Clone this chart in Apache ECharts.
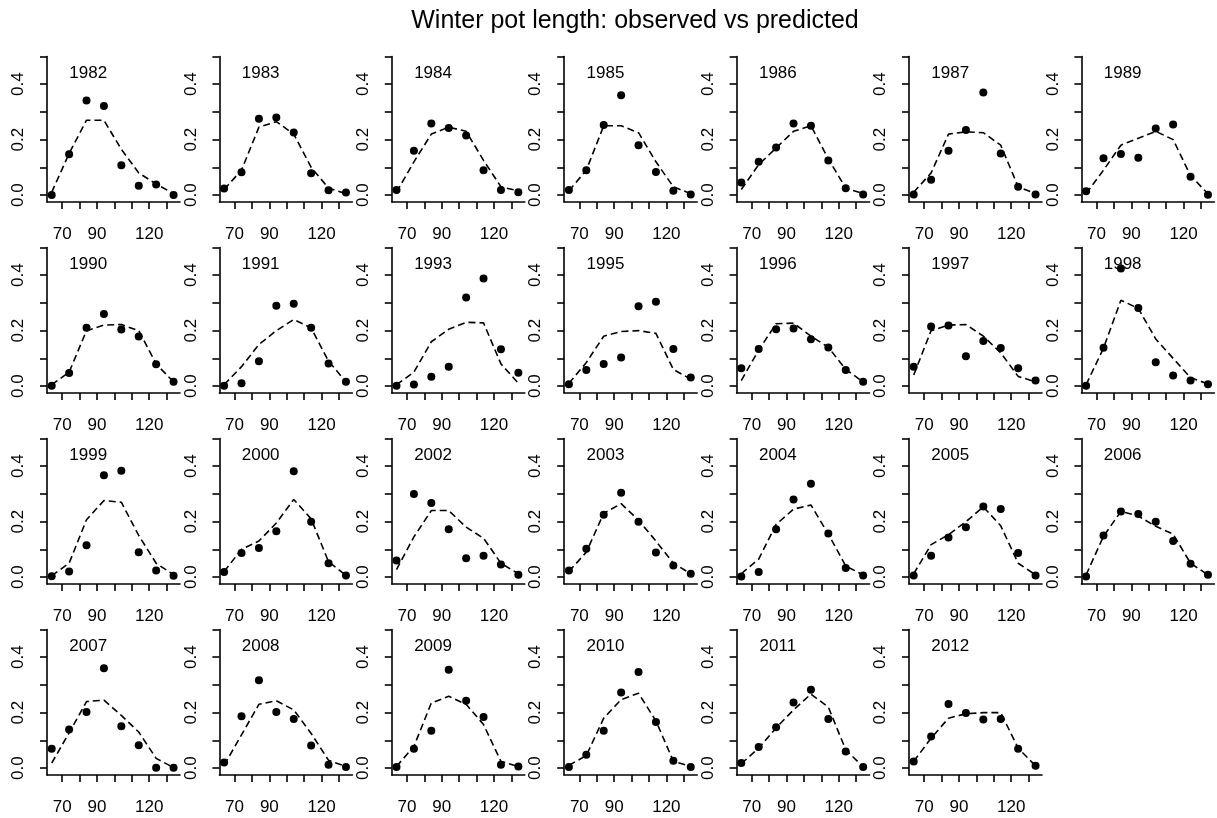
<!DOCTYPE html>
<html>
<head>
<meta charset="utf-8">
<title>Winter pot length</title>
<script src="https://cdn.jsdelivr.net/npm/echarts@6/dist/echarts.min.js"></script>
<style>
  html, body { margin: 0; padding: 0; background: #fff; }
  #chart { width: 1217px; height: 818px; }
</style>
</head>
<body>
<div id="chart"></div>
<script>
// Length classes (x) and axis ticks
const lengths = [64, 74, 84, 94, 104, 114, 124, 134];
const xTicks = [70, 80, 90, 100, 110, 120, 130];
const xTickLabels = [70, 90, 120];
const yTicks = [0, 0.1, 0.2, 0.3, 0.4, 0.5];
const yTickLabels = [0, 0.2, 0.4];

// Observed proportions (points) and model predictions (dashed) per year
const obs1982 = [0.000, 0.147, 0.341, 0.321, 0.108, 0.034, 0.038, 0.000];
const pred1982 = [0.010, 0.150, 0.270, 0.270, 0.165, 0.080, 0.040, 0.005];
const obs1983 = [0.024, 0.082, 0.275, 0.280, 0.226, 0.079, 0.017, 0.009];
const pred1983 = [0.020, 0.090, 0.245, 0.265, 0.220, 0.100, 0.025, 0.005];
const obs1984 = [0.018, 0.160, 0.258, 0.242, 0.215, 0.090, 0.018, 0.010];
const pred1984 = [0.010, 0.120, 0.220, 0.245, 0.230, 0.125, 0.030, 0.015];
const obs1985 = [0.018, 0.090, 0.253, 0.360, 0.180, 0.083, 0.016, 0.002];
const pred1985 = [0.015, 0.090, 0.250, 0.250, 0.225, 0.120, 0.030, 0.005];
const obs1986 = [0.045, 0.120, 0.172, 0.258, 0.250, 0.125, 0.025, 0.002];
const pred1986 = [0.020, 0.110, 0.170, 0.230, 0.250, 0.130, 0.025, 0.005];
const obs1987 = [0.002, 0.055, 0.160, 0.235, 0.370, 0.150, 0.030, 0.002];
const pred1987 = [0.010, 0.080, 0.220, 0.228, 0.225, 0.180, 0.030, 0.005];
const obs1989 = [0.014, 0.133, 0.148, 0.135, 0.240, 0.255, 0.066, 0.001];
const pred1989 = [0.005, 0.090, 0.180, 0.205, 0.230, 0.200, 0.070, 0.005];
const obs1990 = [0.001, 0.047, 0.210, 0.260, 0.204, 0.179, 0.079, 0.016];
const pred1990 = [0.005, 0.050, 0.200, 0.220, 0.222, 0.200, 0.080, 0.015];
const obs1991 = [0.001, 0.010, 0.090, 0.290, 0.297, 0.210, 0.081, 0.016];
const pred1991 = [0.005, 0.070, 0.150, 0.200, 0.240, 0.210, 0.090, 0.015];
const obs1993 = [0.001, 0.006, 0.034, 0.070, 0.320, 0.388, 0.133, 0.048];
const pred1993 = [0.005, 0.050, 0.160, 0.205, 0.230, 0.228, 0.080, 0.010];
const obs1995 = [0.007, 0.058, 0.080, 0.103, 0.288, 0.304, 0.134, 0.031];
const pred1995 = [0.010, 0.085, 0.180, 0.197, 0.200, 0.190, 0.060, 0.025];
const obs1996 = [0.064, 0.134, 0.205, 0.208, 0.169, 0.139, 0.058, 0.016];
const pred1996 = [0.020, 0.130, 0.225, 0.227, 0.180, 0.140, 0.060, 0.015];
const obs1997 = [0.070, 0.215, 0.219, 0.108, 0.163, 0.137, 0.064, 0.020];
const pred1997 = [0.040, 0.200, 0.220, 0.222, 0.180, 0.120, 0.035, 0.015];
const obs1998 = [0.001, 0.138, 0.424, 0.282, 0.086, 0.038, 0.020, 0.007];
const pred1998 = [0.005, 0.137, 0.310, 0.280, 0.170, 0.100, 0.030, 0.008];
const obs1999 = [0.003, 0.020, 0.115, 0.367, 0.384, 0.090, 0.024, 0.005];
const pred1999 = [0.005, 0.050, 0.207, 0.276, 0.270, 0.150, 0.050, 0.008];
const obs2000 = [0.018, 0.087, 0.105, 0.165, 0.382, 0.200, 0.050, 0.006];
const pred2000 = [0.020, 0.100, 0.130, 0.195, 0.280, 0.210, 0.055, 0.006];
const obs2002 = [0.060, 0.300, 0.267, 0.173, 0.068, 0.077, 0.045, 0.008];
const pred2002 = [0.027, 0.145, 0.240, 0.240, 0.180, 0.140, 0.050, 0.012];
const obs2003 = [0.024, 0.102, 0.225, 0.304, 0.200, 0.089, 0.042, 0.012];
const pred2003 = [0.020, 0.090, 0.230, 0.265, 0.205, 0.130, 0.050, 0.012];
const obs2004 = [0.002, 0.018, 0.173, 0.280, 0.337, 0.157, 0.033, 0.006];
const pred2004 = [0.012, 0.065, 0.190, 0.245, 0.260, 0.155, 0.040, 0.008];
const obs2005 = [0.006, 0.077, 0.143, 0.180, 0.255, 0.246, 0.087, 0.006];
const pred2005 = [0.012, 0.117, 0.153, 0.200, 0.253, 0.185, 0.050, 0.008];
const obs2006 = [0.002, 0.150, 0.237, 0.228, 0.200, 0.130, 0.048, 0.008];
const pred2006 = [0.008, 0.147, 0.237, 0.220, 0.183, 0.155, 0.050, 0.008];
const obs2007 = [0.070, 0.139, 0.202, 0.360, 0.151, 0.082, 0.001, 0.001];
const pred2007 = [0.018, 0.127, 0.240, 0.245, 0.190, 0.130, 0.035, 0.002];
const obs2008 = [0.020, 0.187, 0.317, 0.202, 0.177, 0.081, 0.012, 0.004];
const pred2008 = [0.010, 0.120, 0.230, 0.243, 0.210, 0.125, 0.028, 0.006];
const obs2009 = [0.004, 0.070, 0.135, 0.355, 0.243, 0.184, 0.012, 0.006];
const pred2009 = [0.006, 0.078, 0.235, 0.259, 0.230, 0.157, 0.024, 0.006];
const obs2010 = [0.004, 0.048, 0.135, 0.273, 0.347, 0.166, 0.026, 0.004];
const pred2010 = [0.010, 0.045, 0.180, 0.247, 0.270, 0.170, 0.025, 0.006];
const obs2011 = [0.018, 0.076, 0.147, 0.237, 0.283, 0.177, 0.060, 0.004];
const pred2011 = [0.016, 0.072, 0.145, 0.210, 0.267, 0.220, 0.066, 0.004];
const obs2012 = [0.024, 0.114, 0.231, 0.199, 0.175, 0.177, 0.070, 0.008];
const pred2012 = [0.024, 0.108, 0.180, 0.196, 0.200, 0.200, 0.072, 0.008];

const panels = [
  ['1982', obs1982, pred1982], ['1983', obs1983, pred1983], ['1984', obs1984, pred1984],
  ['1985', obs1985, pred1985], ['1986', obs1986, pred1986], ['1987', obs1987, pred1987],
  ['1989', obs1989, pred1989], ['1990', obs1990, pred1990], ['1991', obs1991, pred1991],
  ['1993', obs1993, pred1993], ['1995', obs1995, pred1995], ['1996', obs1996, pred1996],
  ['1997', obs1997, pred1997], ['1998', obs1998, pred1998], ['1999', obs1999, pred1999],
  ['2000', obs2000, pred2000], ['2002', obs2002, pred2002], ['2003', obs2003, pred2003],
  ['2004', obs2004, pred2004], ['2005', obs2005, pred2005], ['2006', obs2006, pred2006],
  ['2007', obs2007, pred2007], ['2008', obs2008, pred2008], ['2009', obs2009, pred2009],
  ['2010', obs2010, pred2010], ['2011', obs2011, pred2011], ['2012', obs2012, pred2012]
];

// Panel layout: 7 columns x 4 rows
const NCOL = 7;
const colLeft = 47, colStep = 172.4, panelW = 133;
const rowTop = 56.5, rowStep = 191, panelH = 145.5;
const X_MIN = 61.3, X_MAX = 137.7;
const Y_MIN = -0.025, Y_MAX = 0.5;
const FONT = '"Liberation Sans", Arial, Helvetica, sans-serif';
const INK = '#000';
const TEXT = '#000';
const LW = 1.6;

const grids = [], xAxes = [], yAxes = [], series = [];
panels.forEach(([year, obs, pred], i) => {
  const c = i % NCOL, r = Math.floor(i / NCOL);
  grids.push({
    left: colLeft + c * colStep, top: rowTop + r * rowStep,
    width: panelW, height: panelH, containLabel: false
  });
  xAxes.push({
    type: 'value', gridIndex: i, min: X_MIN, max: X_MAX,
    axisLine: { show: true, onZero: false, lineStyle: { color: INK, width: LW } },
    axisTick: { show: true, customValues: xTicks, length: 7, inside: false,
                lineStyle: { color: INK, width: LW } },
    axisLabel: { show: true, customValues: xTickLabels, margin: 24,
                 fontSize: 17, fontFamily: FONT, color: TEXT },
    splitLine: { show: false }
  });
  yAxes.push({
    type: 'value', gridIndex: i, min: Y_MIN, max: Y_MAX,
    axisLine: { show: true, onZero: false, lineStyle: { color: INK, width: LW } },
    axisTick: { show: true, customValues: yTicks, length: 7, inside: false,
                lineStyle: { color: INK, width: LW } },
    axisLabel: { show: true, customValues: yTickLabels, rotate: 90, margin: 20,
                 fontSize: 17, fontFamily: FONT, color: TEXT,
                 formatter: v => v.toFixed(1) },
    splitLine: { show: false }
  });
  series.push({
    type: 'line', xAxisIndex: i, yAxisIndex: i,
    data: lengths.map((x, k) => [x, pred[k]]),
    showSymbol: false, symbol: 'none', silent: true, z: 2,
    lineStyle: { color: INK, width: 1.6, type: [7, 4], opacity: 1 }
  });
  series.push({
    type: 'scatter', xAxisIndex: i, yAxisIndex: i,
    data: lengths.map((x, k) => [x, obs[k]]),
    symbol: 'circle', symbolSize: 8, silent: true, z: 3,
    itemStyle: { color: INK, opacity: 1 }
  });
  // year caption inside the panel
  series.push({
    type: 'scatter', xAxisIndex: i, yAxisIndex: i,
    data: [[85, 0.44]], symbolSize: 0, silent: true, z: 4,
    itemStyle: { opacity: 1 },
    label: { show: true, position: 'inside', formatter: year, opacity: 1,
             fontSize: 17, fontFamily: FONT, color: TEXT }
  });
});

const chart = echarts.init(document.getElementById('chart'), null, { renderer: 'canvas' });
chart.setOption({
  animation: false,
  backgroundColor: '#fff',
  title: {
    text: 'Winter pot length: observed vs predicted',
    left: 630, top: 4, textAlign: 'center',
    textStyle: { fontSize: 25, fontWeight: 'normal', fontFamily: FONT, color: TEXT }
  },
  grid: grids,
  xAxis: xAxes,
  yAxis: yAxes,
  series: series
});
</script>
</body>
</html>
